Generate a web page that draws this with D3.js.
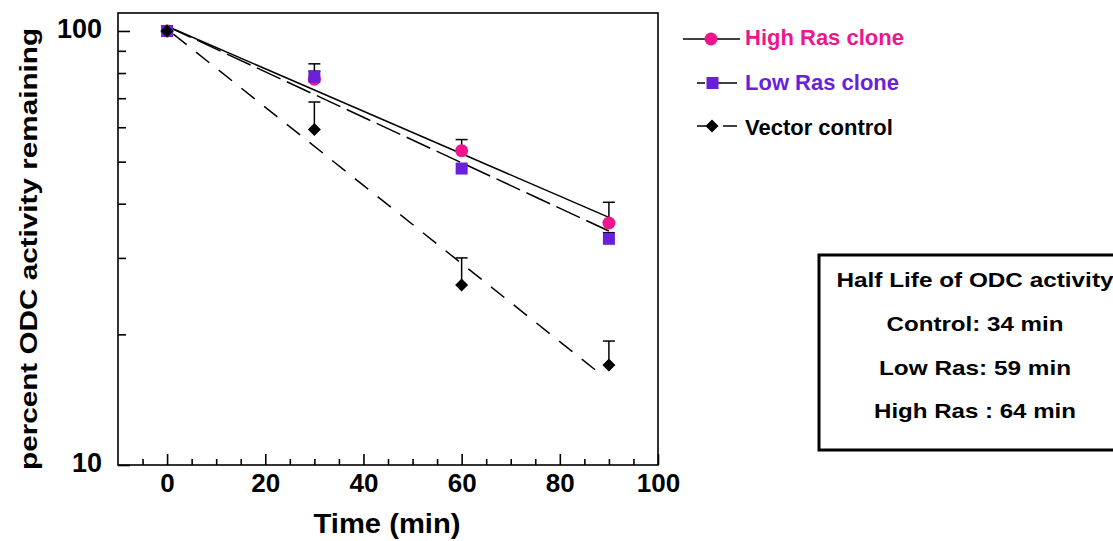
<!DOCTYPE html>
<html><head><meta charset="utf-8">
<script src="https://cdn.jsdelivr.net/npm/d3@7/dist/d3.min.js"></script>
<style>body{margin:0;background:#fff}svg{display:block}text{font-family:"Liberation Sans",Arial,sans-serif;font-weight:bold}</style>
</head><body><svg id="c" width="1113" height="541"></svg>
<script>
const times = [0, 30, 60, 90];
const highRas = [100, 77.4, 53.0, 36.1];
const highRasErr = [100, 84, 56.2, 40.3];
const lowRas = [100, 78.5, 48.2, 33.2];
const lowRasErr = [100, 80.8, 48.2, 34.3];
const vector = [100, 59.3, 26.0, 17.0];
const vectorErr = [100, 68.6, 30.0, 19.3];
const fitTimes = [0, 90];
const highFit = [102.5, 37.2];
const lowFit = [102.5, 34.6];
const vectorFit = [101, 16.3];
const vectorFitTimes = [0, 88];
const xMajor = [0, 20, 40, 60, 80, 100];
const xMinor = [-5, 5, 10, 15, 25, 30, 35, 45, 50, 55, 65, 70, 75, 85, 90, 95];
const yMajor = [10, 100];
const yMinor = [20, 30, 40, 50, 60, 70, 80, 90];
const legendLabels = ["High Ras clone", "Low Ras clone", "Vector control"];
const boxLines = ["Half Life of ODC activity", "Control: 34 min", "Low Ras: 59 min", "High Ras : 64 min"];

const PINK = "#ee168c", PURPLE = "#6a1fd8", BLACK = "#000";
const svg = d3.select("#c");
const x = d3.scaleLinear().domain([-10, 100]).range([118, 658]);
const y = d3.scaleLog().domain([10, 110]).range([465, 13]);

// frame
svg.append("rect").attr("x", 118).attr("y", 13).attr("width", 540).attr("height", 452)
  .attr("fill", "none").attr("stroke", "#000").attr("stroke-width", 1.6);

// x axis
const gx = svg.append("g").attr("transform", "translate(0,465)");
gx.call(d3.axisBottom(x).tickValues(xMajor).tickSize(-11).tickFormat(d3.format("d")));
gx.append("g").call(d3.axisBottom(x).tickValues(xMinor).tickSize(-6).tickFormat(""));
gx.selectAll(".domain").remove();
gx.selectAll("line").attr("stroke-width", 1.6);
gx.selectAll("text").attr("font-size", 26).attr("fill", "#000").attr("y", 27).attr("dy", 0);

// y axis
const gy = svg.append("g").attr("transform", "translate(118,0)");
gy.call(d3.axisLeft(y).tickValues(yMajor).tickSize(-12).tickPadding(16).tickFormat(d3.format("d")));
gy.append("g").call(d3.axisLeft(y).tickValues(yMinor).tickSize(-8).tickFormat(""));
gy.selectAll(".domain").remove();
gy.selectAll("line").attr("stroke-width", 1.6);
gy.selectAll("text").attr("font-size", 27).attr("fill", "#000").attr("dy", "0.24em");

// titles
svg.append("text").attr("x", 387).attr("y", 533).attr("text-anchor", "middle").attr("font-size", 28)
  .attr("textLength", 147).attr("lengthAdjust", "spacingAndGlyphs").text("Time (min)");
svg.append("text").attr("transform", "translate(37,249) rotate(-90)").attr("text-anchor", "middle").attr("font-size", 24)
  .attr("textLength", 442).attr("lengthAdjust", "spacingAndGlyphs").text("percent ODC activity remaining");

// fit lines
const line = d3.line().x(d => x(d[0])).y(d => y(d[1]));
svg.append("path").attr("d", line(fitTimes.map((t, i) => [t, highFit[i]]))).attr("fill", "none").attr("stroke", "#000").attr("stroke-width", 1.5);
svg.append("path").attr("d", line(fitTimes.map((t, i) => [t, lowFit[i]]))).attr("fill", "none").attr("stroke", "#000").attr("stroke-width", 1.5).attr("stroke-dasharray", "26,7");
svg.append("path").attr("d", line(vectorFitTimes.map((t, i) => [t, vectorFit[i]]))).attr("fill", "none").attr("stroke", "#000").attr("stroke-width", 1.5).attr("stroke-dasharray", "17,12").attr("stroke-dashoffset", -8);

// error bars
function errBars(vals, errs) {
  times.forEach((t, i) => {
    if (errs[i] <= vals[i] + 0.01) return;
    svg.append("line").attr("x1", x(t)).attr("x2", x(t)).attr("y1", y(vals[i])).attr("y2", y(errs[i])).attr("stroke", "#000").attr("stroke-width", 1.5);
    svg.append("line").attr("x1", x(t) - 6).attr("x2", x(t) + 6).attr("y1", y(errs[i])).attr("y2", y(errs[i])).attr("stroke", "#000").attr("stroke-width", 1.5);
  });
}
errBars(highRas, highRasErr);
errBars(lowRas, lowRasErr);
errBars(vector, vectorErr);

// markers
const circ = (g, cx, cy) => g.append("circle").attr("cx", cx).attr("cy", cy).attr("r", 6.5).attr("fill", PINK);
const sq = (g, cx, cy) => g.append("rect").attr("x", cx - 6).attr("y", cy - 6).attr("width", 12).attr("height", 12).attr("fill", PURPLE);
const dia = (g, cx, cy) => g.append("path").attr("d", `M${cx},${cy - 6.5}L${cx + 6.5},${cy}L${cx},${cy + 6.5}L${cx - 6.5},${cy}Z`).attr("fill", BLACK);
times.forEach((t, i) => circ(svg, x(t), y(highRas[i])));
times.forEach((t, i) => sq(svg, x(t), y(lowRas[i])));
times.forEach((t, i) => dia(svg, x(t), y(vector[i])));

// legend
const lg = svg.append("g");
const ly = [39, 83, 126];
const seg = (x1, x2, yy) => lg.append("line").attr("x1", x1).attr("x2", x2).attr("y1", yy).attr("y2", yy).attr("stroke", "#000").attr("stroke-width", 1.5);
seg(683, 740, ly[0]);
circ(lg, 711, ly[0]);
seg(697, 705, ly[1]); seg(712, 737, ly[1]);
sq(lg, 712.5, ly[1]);
seg(697, 710, ly[2]); seg(723, 737, ly[2]);
dia(lg, 712, ly[2]);
const lcol = [PINK, PURPLE, BLACK];
const lby = [45, 90, 135];
legendLabels.forEach((s, i) => lg.append("text").attr("x", 745).attr("y", lby[i]).attr("font-size", 22).attr("fill", lcol[i]).text(s));

// half-life box
svg.append("rect").attr("x", 819).attr("y", 255).attr("width", 400).attr("height", 195).attr("fill", "none").attr("stroke", "#000").attr("stroke-width", 3);
const by = [287, 331, 375, 418];
const bw = [277, 177, 192, 202];
boxLines.forEach((s, i) => svg.append("text").attr("x", 975).attr("y", by[i]).attr("text-anchor", "middle").attr("font-size", 21)
  .attr("textLength", bw[i]).attr("lengthAdjust", "spacingAndGlyphs").text(s));
</script></body></html>
